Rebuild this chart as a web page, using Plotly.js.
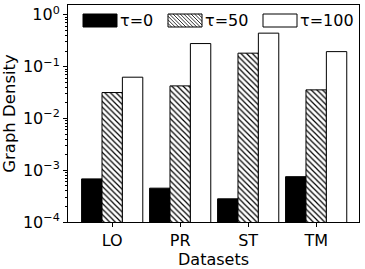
<!DOCTYPE html>
<html><head><meta charset="utf-8">
<script src="https://cdn.plot.ly/plotly-3.0.1.min.js"></script>
<style>html,body{margin:0;padding:0;background:#fff}#c{width:365px;height:269px}</style>
</head><body><div id="c"></div>
<script>
const categories = ['LO','PR','ST','TM'];
const seriesNames = ['τ=0','τ=50','τ=100'];
const tau0 = [6.8e-4, 4.5e-4, 2.8e-4, 7.5e-4];
const tau50 = [0.0316, 0.0425, 0.182, 0.0356];
const tau100 = [0.0625, 0.279, 0.443, 0.195];
const yTickVals = [1e-4, 1e-3, 1e-2, 1e-1, 1];
const yTickText = ['10<sup>−4</sup>','10<sup>−3</sup>','10<sup>−2</sup>','10<sup>−1</sup>','10<sup>0</sup>'];

const W = 365, H = 269, ML = 68, MR = 6, MT = 5, MB = 47;
const PW = W - ML - MR, PH = H - MT - MB;
const px = v => (v - ML) / PW;
const py = v => (H - MB - v) / PH;
const FF = 'DejaVu Sans, sans-serif';

// custom legend (wide swatches like the reference)
const legendBoxes = [
  {x0:83, x1:117, fill:'#000', hatch:false},
  {x0:168, x1:202, fill:'#fff', hatch:true},
  {x0:263, x1:297, fill:'#fff', hatch:false}
];
const LY0 = 14, LY1 = 27;
const shapes = [];
const annotations = [];
legendBoxes.forEach((b, i) => {
  shapes.push({type:'rect', xref:'paper', yref:'paper', x0:px(b.x0), x1:px(b.x1), y0:py(LY1), y1:py(LY0),
    fillcolor:b.fill, line:{color:'#000', width:1}, layer:'above'});
  if (b.hatch) {
    let d = '';
    const s = 3.6;
    for (let c = b.x0 - LY1; c <= b.x1 - LY0; c += s) {
      const ya = Math.max(LY0, b.x0 - c), yb = Math.min(LY1, b.x1 - c);
      if (ya < yb) d += `M${px(ya + c)},${py(ya)} L${px(yb + c)},${py(yb)} `;
    }
    shapes.push({type:'path', xref:'paper', yref:'paper', path:d, line:{color:'#000', width:0.8}, layer:'above'});
  }
  annotations.push({xref:'paper', yref:'paper', x:px(b.x1 + 1), y:py((LY0 + LY1) / 2), xanchor:'left', yanchor:'middle',
    text:seriesNames[i], showarrow:false, font:{family:FF, size:16, color:'#000'}});
});

const minorVals = [];
for (let e = -4; e < 1; e++) for (let m = 2; m <= 9; m++) minorVals.push(m * Math.pow(10, e));

const traces = [
  {type:'bar', name:seriesNames[0], x:categories, y:tau0,
   marker:{color:'#000', line:{color:'#000', width:1}}},
  {type:'bar', name:seriesNames[1], x:categories, y:tau50,
   marker:{color:'#fff', line:{color:'#000', width:1},
     pattern:{shape:'\\', fgcolor:'#000', bgcolor:'#fff', size:4, solidity:0.3}}},
  {type:'bar', name:seriesNames[2], x:categories, y:tau100,
   marker:{color:'#fff', line:{color:'#000', width:1}}}
];
const layout = {
  width:W, height:H,
  margin:{l:ML, r:MR, t:MT, b:MB},
  paper_bgcolor:'#fff', plot_bgcolor:'#fff',
  font:{family:FF, size:16, color:'#000'},
  barmode:'group', bargap:0.1, bargroupgap:0,
  showlegend:false,
  shapes:shapes, annotations:annotations,
  xaxis:{type:'category', range:[-0.65, 3.63], showline:true, mirror:true, linecolor:'#000', linewidth:1,
    ticks:'outside', ticklen:4, tickcolor:'#000', showgrid:false, zeroline:false,
    tickfont:{family:FF, size:16},
    title:{text:'Datasets', font:{family:FF, size:16}, standoff:2}},
  yaxis:{type:'log', range:[-4, 0.19], showline:true, mirror:true, linecolor:'#000', linewidth:1,
    ticks:'outside', ticklen:4, tickcolor:'#000', showgrid:false, zeroline:false,
    tickmode:'array', tickvals:yTickVals, ticktext:yTickText,
    tickfont:{family:FF, size:16},
    minor:{tickmode:'array', tickvals:minorVals, ticks:'outside', ticklen:2, tickcolor:'#000', showgrid:false},
    title:{text:'Graph Density', font:{family:FF, size:16.5}, standoff:3}}
};
Plotly.newPlot('c', traces, layout, {staticPlot:true, displayModeBar:false});
</script></body></html>
